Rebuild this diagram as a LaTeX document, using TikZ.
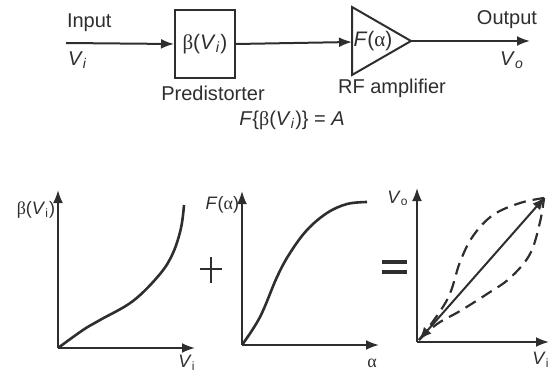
\documentclass[tikz,border=0pt]{standalone}
\usepackage{fontspec}
\setmainfont{Liberation Sans}
\newfontfamily\grk{Liberation Serif}
\usetikzlibrary{arrows.meta}
\begin{document}
\begin{tikzpicture}[x=0.5pt,y=-0.5pt,line width=1pt,color=black!82,
  arr/.style={-{Latex[length=6.5pt,width=5pt]}},
  darr/.style={{Latex[length=6.5pt,width=5pt]}-{Latex[length=6.5pt,width=5pt]}},
  lbl/.style={font=\fontsize{10}{12}\selectfont,inner sep=0pt},
  slbl/.style={font=\fontsize{9}{11}\selectfont,inner sep=0pt},
  blk/.style={draw,minimum width=30pt,minimum height=34pt,inner sep=0pt,font=\fontsize{10.5}{12}\selectfont},
  dsh/.style={line width=1.1pt,dash pattern=on 6pt off 3.5pt}]
\useasboundingbox (0,0) rectangle (549,374);
% ---- block diagram ----
\coordinate (in) at (66,43);
\node[blk] (pre) at (205,44) {{\grk β}(\textit{V}\textsubscript{\textit{i}})};
\coordinate (t1) at (352,7);
\coordinate (t2) at (352,75);
\coordinate (tip) at (411,41);
\coordinate (ampin) at (352,42);
\draw (t1) -- (tip) -- (t2) -- cycle;
\node[lbl,font=\fontsize{10.5}{12}\selectfont] (amp) at (373,41) {\textit{F}({\grk α})};
\coordinate (out) at (530,41);
\draw[arr] (in) -- (pre.west);
\draw[arr] (pre.east) -- (ampin);
\draw[arr] (tip) -- (out);
\node[lbl,anchor=west] (inl) at (66,23) {Input};
\node[lbl,anchor=west] (vi) at (67,60) {\textit{V}\textsubscript{\textit{i}}};
\node[lbl] (prel) at (213,93) {Predistorter};
\node[lbl] (ampl) at (392,88) {RF amplifier};
\node[lbl] (outl) at (507,20) {Output};
\node[lbl] (vo) at (512,60) {\textit{V}\textsubscript{\textit{o}}};
\node[lbl] (eq) at (292,120) {\textit{F}\{{\grk β}(\textit{V}\textsubscript{\textit{i}})\} = \textit{A}};
% ---- graph 1 ----
\coordinate (o1) at (58,348);
\coordinate (y1) at (58,190);
\coordinate (x1) at (195,348);
\draw[arr] (o1) -- (y1);
\draw[arr] (o1) -- (x1);
\draw[line width=1.3pt] plot[smooth,tension=0.6] coordinates {(58,348) (83,330) (100,320) (133,301) (160,274) (173,253) (181,228) (184,205)};
\node[slbl,anchor=east] (b1) at (56,210) {{\grk β}(\textit{V}\textsubscript{i})};
\node[slbl] (v1) at (187,363) {\textit{V}\textsubscript{i}};
% plus
\coordinate (pl) at (200,269);
\coordinate (pr) at (222,269);
\coordinate (pt) at (211,257);
\coordinate (pb) at (211,283);
\draw[line width=1.2pt] (pl) -- (pr) (pt) -- (pb);
% ---- graph 2 ----
\coordinate (o2) at (242,345);
\coordinate (y2) at (242,191);
\coordinate (x2) at (379,345);
\draw[arr] (o2) -- (y2);
\draw[arr] (o2) -- (x2);
\draw[line width=1.3pt] plot[smooth,tension=0.6] coordinates {(242,345) (260,317) (277,277) (290,253) (307,230) (327,213) (347,204) (367,202)};
\node[slbl,anchor=east] (f2) at (240,205) {\textit{F}({\grk α})};
\node[slbl] (a2) at (372,363) {{\grk α}};
% equals
\coordinate (e1) at (382,262);
\coordinate (e2) at (407,262);
\coordinate (e3) at (382,272);
\coordinate (e4) at (407,272);
\draw[line width=1.8pt] (e1) -- (e2) (e3) -- (e4);
% ---- graph 3 ----
\coordinate (o3) at (417,342);
\coordinate (y3) at (417,188);
\coordinate (x3) at (549,342);
\draw[arr] (o3) -- (y3);
\draw[arr] (o3) -- (x3);
\coordinate (p) at (419,340);
\coordinate (q) at (545,197);
\draw[darr] (p) -- (q);
\draw[dsh] plot[smooth,tension=0.6] coordinates {(419,340) (447,300) (460,262) (473,236) (493,215) (520,203) (544,198)};
\draw[dsh] plot[smooth,tension=0.6] coordinates {(419,340) (437,324) (460,311) (487,294) (510,278) (530,254) (540,222) (544,198)};
\node[slbl] (v3) at (398,198) {\textit{V}\textsubscript{o}};
\node[slbl] (v3b) at (541,360) {\textit{V}\textsubscript{i}};
\end{tikzpicture}
\end{document}
